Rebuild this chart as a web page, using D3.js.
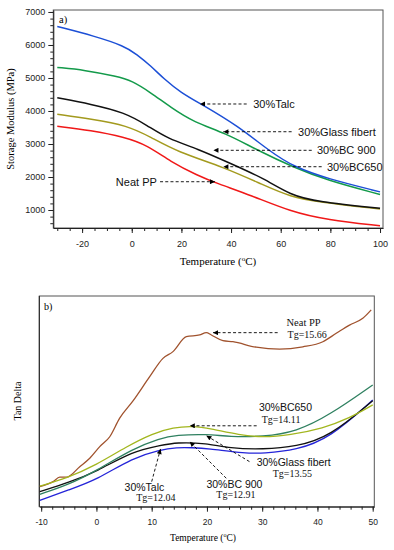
<!DOCTYPE html>
<html>
<head>
<meta charset="utf-8">
<script src="https://cdn.jsdelivr.net/npm/d3@7"></script>
<style>
body{margin:0;background:#fff;}
svg{display:block;}
</style>
</head>
<body>
<script>
//panel a) storage modulus, [temperature, MPa]
var talcA = [[-30,6560],[-15,6270],[-3,5970],[2,5720],[7.6,5370],[13,4970],[19.7,4560],[28.4,4190],[42.5,3560],[55.9,2760],[65.3,2310],[78.7,1950],[100,1550]];
var glassA = [[-30,5320],[-19,5240],[-6,5050],[0,4920],[7.6,4560],[15.7,4110],[25,3660],[37.8,3330],[50.6,2810],[65.3,2290],[78.7,1900],[100,1470]];
var bc900A = [[-30,4400],[-16.5,4210],[-3,3960],[6.3,3560],[14.4,3160],[26.4,2860],[39.8,2410],[53.2,1960],[64,1450],[74.7,1250],[100,1050]];
var bc650A = [[-30,3900],[-16.5,3760],[-1.7,3560],[7.6,3210],[18.4,2760],[37.1,2300],[53.2,1750],[64,1400],[74.7,1250],[100,1030]];
var neatA = [[-30,3540],[-16.5,3410],[-3,3210],[6.3,2960],[15.7,2460],[26.4,2050],[34.5,1800],[47.9,1450],[64,950],[78.7,700],[100,520]];

//panel b) tan delta (relative units, no scale shown)
var neatB = [[-10.25,9.5],[-7.85,11.9],[-6.64,14],[-5.42,14],[-3.02,19],[-1.21,23],[0.6,28.5],[2.41,33.2],[4.21,42],[6.62,50.2],[9.64,61.7],[12.04,70.4],[13.85,73.6],[16.27,80.7],[18.68,81.5],[19.89,82.6],[20.8,81.5],[22.89,78.8],[24.7,78.3],[28.93,75.7],[33.15,74.8],[37.36,75.9],[40.98,78.3],[43.4,82.3],[45.8,86.2],[48.21,89.4],[49.73,93.4]];
var bc650B = [[-10.25,9.8],[-5.4,13.5],[0,19.8],[5.4,28.5],[10.2,34.8],[13.9,37.7],[17.5,38.3],[20.5,37.2],[25.9,34],[30.1,32.9],[35,34],[41,37.2],[45.8,42],[50,48.3]];
var glassB = [[-10.25,5.9],[-5,10.5],[0,17.1],[6.6,27.5],[11.4,32.4],[14.5,34],[19.9,34.5],[24.1,33.2],[30.1,33.2],[36.2,35.6],[42.2,43.5],[50,57.8]];
var bc900B = [[-10.25,7.1],[-5,11.5],[0,16.6],[6.6,26.4],[11.4,28.9],[14.5,30.6],[19.9,30.1],[24.1,27.7],[30.1,27.2],[36.2,28.5],[42.2,33.2],[50,50.3]];
var talcB = [[-10.25,3],[-5,8],[0,12.7],[6.6,23.3],[11.4,26.9],[14.5,28.2],[17.5,28],[19.9,27.7],[27.1,25.3],[30.1,25.3],[36.2,26.9],[42.2,32.5],[50,50.6]];

//tick values
var xMajorA = [-20,0,20,40,60,80,100];
var xMinorA = [-30,-25,-20,-15,-10,-5,0,5,10,15,20,25,30,35,40,45,50,55,60,65,70,75,80,85,90,95,100];
var yMajorA = [1000,2000,3000,4000,5000,6000,7000];
var xMajorB = [-10,0,10,20,30,40,50];

//labels: arrow tip / tail in data units, text anchor in data units
var notesA = [
  {text:"30%Talc", tip:[27.5,4212], tail:46.3, tx:48.9},
  {text:"30%Glass fibert", tip:[36.9,3372], tail:64.4, tx:67.0},
  {text:"30%BC 900", tip:[32.9,2809], tail:72.5, tx:74.6},
  {text:"30%BC650", tip:[36.9,2312], tail:76.5, tx:78.6},
  {text:"Neat PP", tip:[33.5,1857], tail:11.4, tx:10.1}
];
var notesB = [
  {text:"Neat PP", tg:"Tg=15.66", tip:[21.1,82.6], tail:[32.8,82.6], t1:[34.4,85.6], t2:[34.6,80.2], serif:true},
  {text:"30%BC650", tg:"Tg=14.11", tip:[16.9,38.4], tail:[29.0,38.4], t1:[29.4,45.2], t2:[29.9,39.8]},
  {text:"30%Glass fibert", tg:"Tg=13.55", tip:[19.9,33.7], tail:[27.7,21.4], t1:[29.0,19.4], t2:[31.9,14.1]},
  {text:"30%BC 900", tg:"Tg=12.91", tip:[16.9,30.8], tail:[23.5,13.5], t1:[19.9,9.0], t2:[21.7,3.9]},
  {text:"30%Talc", tg:"Tg=12.04", tip:[11.6,27.4], tail:[10.0,11.9], t1:[5.1,7.3], t2:[7.2,2.6]}
];

var sans = "'Liberation Sans', Arial, sans-serif";
var serif = "'Liberation Serif', 'Times New Roman', serif";
var plain = function(d){ return String(d); };

var svg = d3.select("body").append("svg")
    .attr("width", 394)
    .attr("height", 550);

svg.append("defs").append("marker")
    .attr("id", "arr")
    .attr("viewBox", "0 0 10 10")
    .attr("refX", 10).attr("refY", 5)
    .attr("markerWidth", 7).attr("markerHeight", 5)
    .attr("markerUnits", "userSpaceOnUse")
    .attr("orient", "auto")
    .append("path").attr("d", "M0,0L10,5L0,10z").attr("fill", "#000");

function styleAxis(g, size){
    g.selectAll("path.domain").attr("stroke", "#222");
    g.selectAll(".tick line").attr("stroke", "#222");
    g.selectAll(".tick text").attr("font-family", sans).attr("font-size", size).attr("fill", "#222");
}

// ---------- panel a ----------
var xA = d3.scaleLinear().domain([-31.6, 101.2]).range([53.3, 383]);
var yA = d3.scaleLinear().domain([455, 7060]).range([228, 10]);

svg.append("rect")
    .attr("x", 53.3).attr("y", 10)
    .attr("width", 383 - 53.3).attr("height", 218)
    .attr("fill", "none").attr("stroke", "#555");

svg.append("g").attr("transform", "translate(0,228)")
    .call(d3.axisBottom(xA).tickValues(xMinorA).tickSize(3).tickFormat(""))
    .call(function(g){ g.select(".domain").remove(); })
    .call(styleAxis, 9);
svg.append("g").attr("transform", "translate(0,228)")
    .call(d3.axisBottom(xA).tickValues(xMajorA).tickFormat(plain).tickSize(5).tickSizeOuter(0).tickPadding(8))
    .call(styleAxis, 9);

var yMinorA = d3.range(600, 7001, 200);
svg.append("g").attr("transform", "translate(53.3,0)")
    .call(d3.axisLeft(yA).tickValues(yMinorA).tickSize(3).tickFormat(""))
    .call(function(g){ g.select(".domain").remove(); })
    .call(styleAxis, 9);
svg.append("g").attr("transform", "translate(53.3,0)")
    .call(d3.axisLeft(yA).tickValues(yMajorA).tickFormat(plain).tickSize(5).tickSizeOuter(0).tickPadding(3))
    .call(styleAxis, 9);

var lineA = d3.line()
    .x(function(d){ return xA(d[0]); })
    .y(function(d){ return yA(d[1]); })
    .curve(d3.curveBasis);

var seriesA = [
    {data: neatA, color: "#f01818"},
    {data: bc650A, color: "#a39a1e"},
    {data: bc900A, color: "#111111"},
    {data: glassA, color: "#139a4a"},
    {data: talcA, color: "#1c4fd6"}
];
svg.selectAll(".lineA").data(seriesA).enter().append("path")
    .attr("class", "lineA")
    .attr("d", function(d){ return lineA(d.data); })
    .attr("fill", "none")
    .attr("stroke", function(d){ return d.color; })
    .attr("stroke-width", 1.5);

notesA.forEach(function(n){
    var yy = yA(n.tip[1]);
    svg.append("line")
        .attr("x1", xA(n.tail)).attr("y1", yy)
        .attr("x2", xA(n.tip[0])).attr("y2", yy)
        .attr("stroke", "#000").attr("stroke-width", 0.9)
        .attr("stroke-dasharray", "3,2.2")
        .attr("marker-end", "url(#arr)");
    svg.append("text")
        .attr("x", xA(n.tx)).attr("y", yy + 4)
        .attr("text-anchor", n.tx < n.tip[0] ? "end" : "start")
        .attr("font-family", sans).attr("font-size", 11).attr("fill", "#111")
        .text(n.text);
});

svg.append("text").attr("x", 59).attr("y", 23)
    .attr("font-family", serif).attr("font-size", 10.5).text("a)");

svg.append("text")
    .attr("transform", "translate(14,119) rotate(-90)")
    .attr("text-anchor", "middle")
    .attr("font-family", serif).attr("font-size", 10.5)
    .text("Storage Modulus (MPa)");

function tempTitle(x, y, size){
    var t = svg.append("text").attr("x", x).attr("y", y)
        .attr("text-anchor", "middle")
        .attr("font-family", serif).attr("font-size", size);
    t.append("tspan").text("Temperature (");
    t.append("tspan").attr("dy", -size * 0.4).attr("font-size", size * 0.65).text("o");
    t.append("tspan").attr("dy", size * 0.4).text("C)");
}
tempTitle(218, 265, 11);

// ---------- panel b ----------
var xB = d3.scaleLinear().domain([-10.34, 50.29]).range([39.3, 374.3]);
var yB = d3.scaleLinear().domain([0, 100]).range([506.7, 296]);

svg.append("rect")
    .attr("x", 39.3).attr("y", 296)
    .attr("width", 374.3 - 39.3).attr("height", 506.7 - 296)
    .attr("fill", "none").attr("stroke", "#555");

svg.append("g").attr("transform", "translate(0,506.7)")
    .call(d3.axisBottom(xB).tickValues(d3.range(-10, 50.1, 2)).tickSize(3).tickFormat(""))
    .call(function(g){ g.select(".domain").remove(); })
    .call(styleAxis, 8.5);
svg.append("g").attr("transform", "translate(0,506.7)")
    .call(d3.axisBottom(xB).tickValues(xMajorB).tickFormat(plain).tickSize(5).tickSizeOuter(0).tickPadding(7))
    .call(styleAxis, 8.5);
svg.append("line").attr("x1", 39.3).attr("x2", 39.3).attr("y1", 296).attr("y2", 506.7)
    .attr("stroke", "#222");

var lineB = d3.line()
    .x(function(d){ return xB(d[0]); })
    .y(function(d){ return yB(d[1]); });

var seriesB = [
    {data: neatB, color: "#a0522d", curve: d3.curveMonotoneX},
    {data: talcB, color: "#2424d8"},
    {data: bc900B, color: "#111111"},
    {data: glassB, color: "#2f8060"},
    {data: bc650B, color: "#a2b61e"}
];
svg.selectAll(".lineB").data(seriesB).enter().append("path")
    .attr("class", "lineB")
    .attr("d", function(d){ return lineB.curve(d.curve || d3.curveBasis)(d.data); })
    .attr("fill", "none")
    .attr("stroke", function(d){ return d.color; })
    .attr("stroke-width", 1.3);

notesB.forEach(function(n){
    svg.append("line")
        .attr("x1", xB(n.tail[0])).attr("y1", yB(n.tail[1]))
        .attr("x2", xB(n.tip[0])).attr("y2", yB(n.tip[1]))
        .attr("stroke", "#000").attr("stroke-width", 0.9)
        .attr("stroke-dasharray", "3,2.2")
        .attr("marker-end", "url(#arr)");
    svg.append("text")
        .attr("x", xB(n.t1[0])).attr("y", yB(n.t1[1]))
        .attr("font-family", n.serif ? serif : sans).attr("font-size", 10.5)
        .attr("fill", "#111")
        .text(n.text);
    svg.append("text")
        .attr("x", xB(n.t2[0])).attr("y", yB(n.t2[1]))
        .attr("font-family", serif).attr("font-size", 10).attr("fill", "#111")
        .text(n.tg);
});

svg.append("text").attr("x", 44).attr("y", 310)
    .attr("font-family", serif).attr("font-size", 10).text("b)");

svg.append("text")
    .attr("transform", "translate(21,401) rotate(-90)")
    .attr("text-anchor", "middle")
    .attr("font-family", serif).attr("font-size", 10)
    .text("Tan Delta");

tempTitle(203, 541, 9.5);
</script>
</body>
</html>
